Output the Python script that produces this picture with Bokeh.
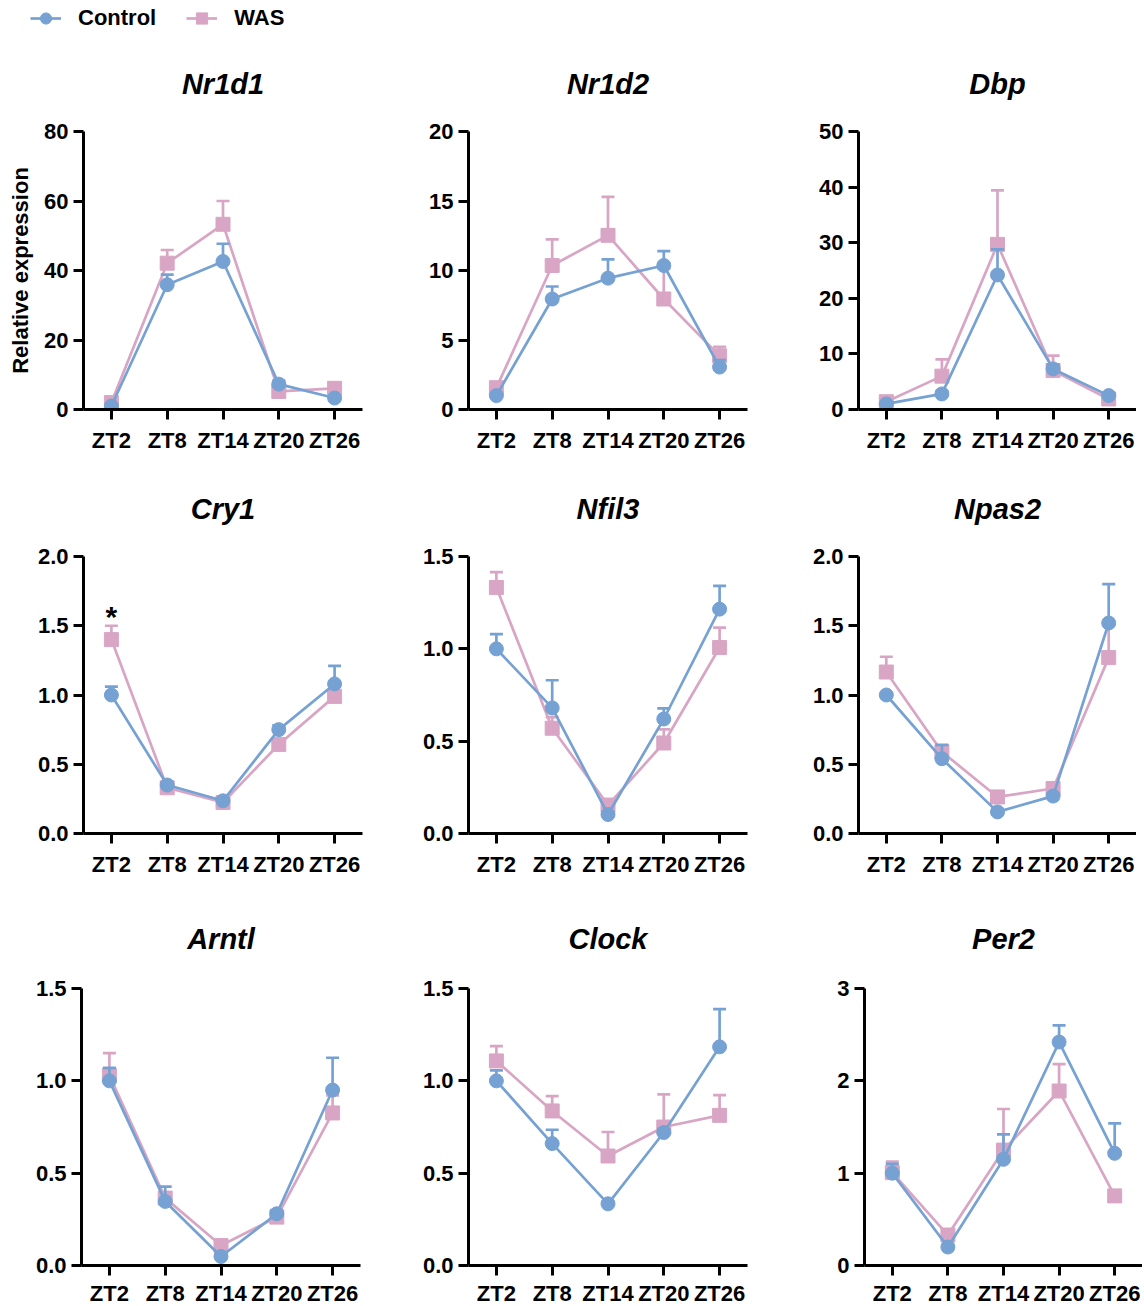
from bokeh.plotting import figure
from bokeh.layouts import column, row
from bokeh.models import (ColumnDataSource, Whisker, TeeHead, FixedTicker, Range1d,
                          Legend, LegendItem)
from bokeh.embed import file_html
from bokeh.resources import INLINE
from bokeh.core.properties import value

# ---------------- data ----------------
timepoints = ["ZT2", "ZT8", "ZT14", "ZT20", "ZT26"]
genes = ["Nr1d1", "Nr1d2", "Dbp", "Cry1", "Nfil3", "Npas2", "Arntl", "Clock", "Per2"]

nr1d1_control = [1.0, 35.9, 42.6, 7.3, 3.3]
nr1d1_control_sem = [0.3, 2.9, 5.1, 1.0, 0.6]
nr1d1_was = [2.0, 42.1, 53.3, 5.2, 6.1]
nr1d1_was_sem = [0.5, 3.8, 6.7, 1.0, 1.0]

nr1d2_control = [1.0, 7.95, 9.45, 10.36, 3.05]
nr1d2_control_sem = [0.1, 0.9, 1.35, 1.04, 0.5]
nr1d2_was = [1.57, 10.36, 12.53, 7.95, 3.86]
nr1d2_was_sem = [0.2, 1.88, 2.77, 2.2, 0.64]

dbp_control = [1.0, 2.8, 24.2, 7.3, 2.5]
dbp_control_sem = [0.3, 0.5, 4.6, 0.8, 0.4]
dbp_was = [1.4, 6.0, 29.7, 7.0, 1.9]
dbp_was_sem = [0.4, 3.0, 9.7, 2.7, 0.4]

cry1_control = [1.0, 0.35, 0.236, 0.75, 1.08]
cry1_control_sem = [0.06, 0.02, 0.02, 0.03, 0.13]
cry1_was = [1.40, 0.33, 0.224, 0.643, 0.99]
cry1_was_sem = [0.10, 0.02, 0.02, 0.03, 0.04]
cry1_significance = ["*", "", "", "", ""]

nfil3_control = [1.0, 0.68, 0.103, 0.62, 1.215]
nfil3_control_sem = [0.08, 0.15, 0.01, 0.058, 0.126]
nfil3_was = [1.332, 0.57, 0.154, 0.49, 1.007]
nfil3_was_sem = [0.083, 0.06, 0.02, 0.074, 0.108]

npas2_control = [1.0, 0.54, 0.156, 0.27, 1.52]
npas2_control_sem = [0.01, 0.10, 0.02, 0.02, 0.28]
npas2_was = [1.166, 0.59, 0.264, 0.325, 1.27]
npas2_was_sem = [0.11, 0.03, 0.02, 0.03, 0.23]

arntl_control = [1.0, 0.347, 0.049, 0.28, 0.95]
arntl_control_sem = [0.07, 0.08, 0.01, 0.02, 0.175]
arntl_was = [1.03, 0.365, 0.108, 0.262, 0.826]
arntl_was_sem = [0.12, 0.03, 0.01, 0.02, 0.095]

clock_control = [1.0, 0.66, 0.334, 0.72, 1.184]
clock_control_sem = [0.057, 0.075, 0.01, 0.02, 0.204]
clock_was = [1.108, 0.837, 0.593, 0.75, 0.813]
clock_was_sem = [0.08, 0.08, 0.13, 0.177, 0.11]

per2_control = [1.0, 0.2, 1.15, 2.42, 1.215]
per2_control_sem = [0.1, 0.02, 0.27, 0.18, 0.325]
per2_was = [1.006, 0.33, 1.25, 1.89, 0.754]
per2_was_sem = [0.12, 0.03, 0.445, 0.29, 0.03]

nr1d1_yticks = [0, 20, 40, 60, 80]
nr1d1_ylabels = ["0", "20", "40", "60", "80"]
nr1d2_yticks = [0, 5, 10, 15, 20]
nr1d2_ylabels = ["0", "5", "10", "15", "20"]
dbp_yticks = [0, 10, 20, 30, 40, 50]
dbp_ylabels = ["0", "10", "20", "30", "40", "50"]
cry1_yticks = [0, 0.5, 1.0, 1.5, 2.0]
cry1_ylabels = ["0.0", "0.5", "1.0", "1.5", "2.0"]
nfil3_yticks = [0, 0.5, 1.0, 1.5]
nfil3_ylabels = ["0.0", "0.5", "1.0", "1.5"]
npas2_yticks = [0, 0.5, 1.0, 1.5, 2.0]
npas2_ylabels = ["0.0", "0.5", "1.0", "1.5", "2.0"]
arntl_yticks = [0, 0.5, 1.0, 1.5]
arntl_ylabels = ["0.0", "0.5", "1.0", "1.5"]
clock_yticks = [0, 0.5, 1.0, 1.5]
clock_ylabels = ["0.0", "0.5", "1.0", "1.5"]
per2_yticks = [0, 1, 2, 3]
per2_ylabels = ["0", "1", "2", "3"]

series_names = ["Control", "WAS"]
y_axis_title = "Relative expression"

panels = {
    "Nr1d1": (nr1d1_control, nr1d1_control_sem, nr1d1_was, nr1d1_was_sem, nr1d1_yticks, nr1d1_ylabels),
    "Nr1d2": (nr1d2_control, nr1d2_control_sem, nr1d2_was, nr1d2_was_sem, nr1d2_yticks, nr1d2_ylabels),
    "Dbp": (dbp_control, dbp_control_sem, dbp_was, dbp_was_sem, dbp_yticks, dbp_ylabels),
    "Cry1": (cry1_control, cry1_control_sem, cry1_was, cry1_was_sem, cry1_yticks, cry1_ylabels),
    "Nfil3": (nfil3_control, nfil3_control_sem, nfil3_was, nfil3_was_sem, nfil3_yticks, nfil3_ylabels),
    "Npas2": (npas2_control, npas2_control_sem, npas2_was, npas2_was_sem, npas2_yticks, npas2_ylabels),
    "Arntl": (arntl_control, arntl_control_sem, arntl_was, arntl_was_sem, arntl_yticks, arntl_ylabels),
    "Clock": (clock_control, clock_control_sem, clock_was, clock_was_sem, clock_yticks, clock_ylabels),
    "Per2": (per2_control, per2_control_sem, per2_was, per2_was_sem, per2_yticks, per2_ylabels),
}

# ---------------- style ----------------
FONT = "Liberation Sans"
BLUE = "#76A1D3"
PINK = "#D8A6C4"
LW = 2.7
AXIS_LW = 3
MSIZE = 14
LABEL_SIZE = "22px"

# (border_left, frame_w, border_right) per row / column
col_geom = [
    [(83, 279, 46), (60, 279, 51), (60, 278, 0)],
    [(83, 279, 46), (60, 279, 51), (60, 278, 0)],
    [(81, 279, 48), (60, 279, 51), (66, 278, 0)],
]
# (border_top, frame_h, border_bottom) per row
row_geom = [(97, 278, 46), (101, 277, 52), (103, 277, 41)]
title_standoff = [64, 64, 68]
xlabel_standoff = [8, 8, 5]


def make_panel(gene, r, c):
    ctrl, ctrl_sem, was, was_sem, yticks, ylabels = panels[gene]
    bl, fw, br = col_geom[r][c]
    bt, fh, bb = row_geom[r]
    p = figure(x_range=timepoints, y_range=Range1d(yticks[0], yticks[-1]),
               frame_width=fw, frame_height=fh,
               min_border_left=bl, min_border_right=br,
               min_border_top=bt, min_border_bottom=bb,
               output_backend="svg", toolbar_location=None, title=gene)
    p.outline_line_color = None
    p.grid.grid_line_color = None
    p.background_fill_color = "white"
    p.border_fill_color = "white"

    p.title.align = "center"
    p.title.text_font = FONT
    p.title.text_font_size = "29px"
    p.title.text_font_style = "bold italic"
    p.title.text_color = "black"
    p.title.standoff = title_standoff[r]

    for ax in (p.xaxis, p.yaxis):
        ax.axis_line_width = AXIS_LW
        ax.axis_line_color = "black"
        ax.major_tick_line_width = AXIS_LW
        ax.major_tick_line_color = "black"
        ax.major_tick_out = 10
        ax.major_tick_in = 0
        ax.minor_tick_line_color = None
        ax.major_label_text_font = FONT
        ax.major_label_text_font_size = LABEL_SIZE
        ax.major_label_text_font_style = "bold"
        ax.major_label_text_color = "black"
    p.xaxis.major_label_standoff = xlabel_standoff[r]
    p.yaxis.major_label_standoff = 5
    p.yaxis.ticker = FixedTicker(ticks=yticks)
    p.yaxis.major_label_overrides = {t: l for t, l in zip(yticks, ylabels)}
    p.x_range.range_padding = 0

    if r == 0 and c == 0:
        p.yaxis.axis_label = y_axis_title
        p.yaxis.axis_label_text_font = FONT
        p.yaxis.axis_label_text_font_size = LABEL_SIZE
        p.yaxis.axis_label_text_font_style = "bold"
        p.yaxis.axis_label_text_color = "black"
        p.yaxis.axis_label_standoff = 8

    # WAS first, Control on top
    for vals, sem, color, marker in ((was, was_sem, PINK, "square"),
                                     (ctrl, ctrl_sem, BLUE, "circle")):
        src = ColumnDataSource(dict(x=timepoints, y=vals,
                                    upper=[v + s for v, s in zip(vals, sem)]))
        p.line("x", "y", source=src, line_color=color, line_width=LW)
        w = Whisker(source=src, base="x", upper="upper", lower="y", dimension="height",
                    line_color=color, line_width=LW, level="glyph",
                    upper_head=TeeHead(size=13, line_color=color, line_width=LW),
                    lower_head=None)
        p.renderers.append(w)
        p.scatter("x", "y", source=src, marker=marker, size=MSIZE,
                  fill_color=color, line_color=color)

    if gene == "Cry1":
        sig_x = [t for t, s in zip(timepoints, cry1_significance) if s]
        sig_y = [v + e + 0.07 for v, e, s in zip(cry1_was, cry1_was_sem, cry1_significance) if s]
        sig_t = [s for s in cry1_significance if s]
        p.text(x=sig_x, y=sig_y, text=sig_t, text_align="center", text_baseline="alphabetic",
               text_font=value(FONT), text_font_style="bold", text_font_size="30px",
               text_color="black")
    return p


# ---------------- legend figure ----------------
lf = figure(width=400, height=33, x_range=Range1d(0, 1), y_range=Range1d(0, 1),
            x_axis_location=None, y_axis_location=None, min_border=0,
            output_backend="svg", toolbar_location=None)
lf.outline_line_color = None
lf.grid.grid_line_color = None
lr = []
for color, marker in ((BLUE, "circle"), (PINK, "square")):
    # legend swatch renderers; their points lie outside the visible range
    l = lf.line(x=[-1, -2], y=[-1, -2], line_color=color, line_width=LW)
    m = lf.scatter(x=[-1], y=[-1], marker=marker, size=MSIZE, fill_color=color, line_color=color)
    lr.append([l, m])
legend = Legend(items=[LegendItem(label=series_names[i], renderers=lr[i]) for i in range(2)],
                orientation="horizontal", location=(30, 1),
                glyph_width=31, glyph_height=28, label_standoff=17, spacing=30,
                padding=0, margin=0, border_line_color=None, background_fill_alpha=0,
                label_text_font=FONT, label_text_font_size=LABEL_SIZE,
                label_text_font_style="bold", label_text_color="black")
lf.add_layout(legend)

rows = []
for r in range(3):
    rows.append(row(*[make_panel(genes[r * 3 + c], r, c) for c in range(3)]))

layout = column(lf, *rows)
open("out.html", "w").write(file_html(layout, INLINE))
